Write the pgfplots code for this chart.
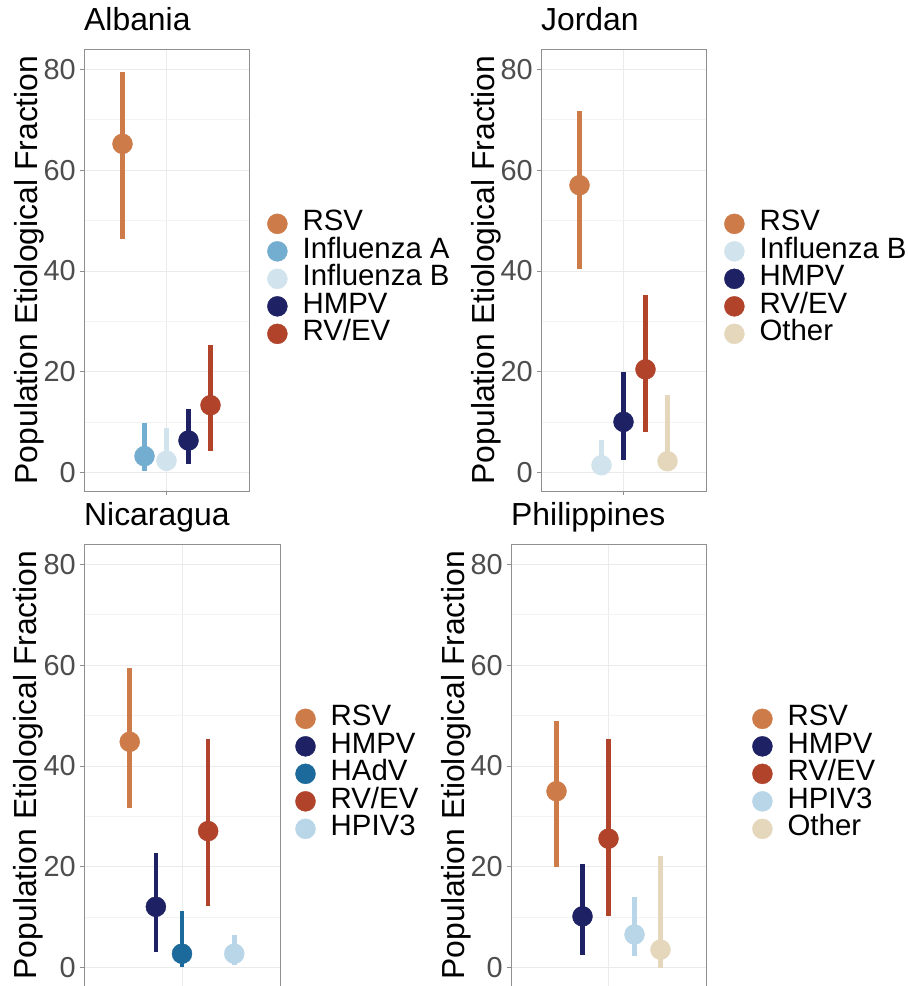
\documentclass[border=0pt]{standalone}
\usepackage{pgfplots}
\pgfplotsset{compat=1.18}
\usepackage{fontspec}
\setmainfont{Liberation Sans}
\definecolor{cRSV}{HTML}{CD7B48}
\definecolor{cFluA}{HTML}{73ADCF}
\definecolor{cFluB}{HTML}{D1E3EC}
\definecolor{cHMPV}{HTML}{1E2163}
\definecolor{cRV}{HTML}{B0432A}
\definecolor{cHAdV}{HTML}{1B6A9B}
\definecolor{cHPIV}{HTML}{B8D6E7}
\definecolor{cOther}{HTML}{E5D7BC}
\definecolor{gridc}{HTML}{EBEBEB}
\definecolor{framec}{HTML}{8F8F8F}
\definecolor{tickc}{HTML}{4D4D4D}
\pgfplotsset{
  panel/.style={
    scale only axis,
    height=442bp,
    xmin=0.4, xmax=1.6,
    ymin=-3.6, ymax=84,
    xtick={1}, xticklabels={},
    ytick={0,20,40,60,80},
    minor ytick={10,30,50,70},
    xtick pos=bottom, ytick pos=left,
    xmajorgrids, ymajorgrids, yminorgrids,
    major grid style={gridc, line width=0.9bp},
    minor grid style={gridc!60, line width=0.6bp},
    axis line style={framec, line width=0.9bp},
    tick align=outside,
    major tick length=4bp,
    minor tick length=0bp,
    tick style={framec, line width=0.9bp},
    /pgf/number format/assume math mode=true,
    yticklabel style={font=\fontsize{29}{29}\selectfont, text=tickc, inner sep=0pt, xshift=-4bp},
    title style={at={(0,1)}, anchor=base west, inner sep=0pt, yshift=13bp, font=\fontsize{32}{32}\selectfont},
    ylabel={Population Etiological Fraction},
    ylabel style={font=\fontsize{32}{32}\selectfont, anchor=base, rotate=0},
    legend cell align=left,
    legend style={draw=none, fill=none, anchor=west, inner sep=0pt, row sep=0pt,
      nodes={inner sep=0pt, text height=20.5bp, text depth=7bp, font=\fontsize{29.5}{29.5}\selectfont},
      column sep=0pt},
    legend image code/.code={\fill[#1] (10bp,0bp) circle (10bp); \path (35bp,0bp);},
  },
  ci/.style={only marks, mark=*, mark size=10bp, color=#1, fill=#1,
    mark options={draw=#1, fill=#1},
    error bars/.cd, y dir=both, y explicit, error mark=none,
    error bar style={line width=4.5bp, color=#1}},
}
\begin{document}
\begin{tikzpicture}
\path[use as bounding box] (0,0) rectangle (908bp,986bp);
% Albania
\begin{axis}[panel, at={(84bp,495bp)}, anchor=south west, width=165bp,
  title={Albania},
  ylabel style={at={(axis description cs:-0.2848,0.5)}},
  legend style={at={(axis description cs:1.109,0.48)}}]
\addplot+[ci=cRSV] coordinates {(0.68,65.2) += (0,14.3) -= (0,18.9)};
\addlegendentry{RSV}
\addplot+[ci=cFluA] coordinates {(0.84,3.3) += (0,6.6) -= (0,3.0)};
\addlegendentry{Influenza A}
\addplot+[ci=cFluB] coordinates {(1.00,2.4) += (0,6.5) -= (0,2.1)};
\addlegendentry{Influenza B}
\addplot+[ci=cHMPV] coordinates {(1.16,6.4) += (0,6.3) -= (0,4.6)};
\addlegendentry{HMPV}
\addplot+[ci=cRV] coordinates {(1.32,13.4) += (0,11.9) -= (0,9.1)};
\addlegendentry{RV/EV}
\end{axis}
% Jordan
\begin{axis}[panel, at={(541bp,495bp)}, anchor=south west, width=165bp,
  title={Jordan},
  ylabel style={at={(axis description cs:-0.2848,0.5)}},
  legend style={at={(axis description cs:1.109,0.48)}}]
\addplot+[ci=cRSV] coordinates {(0.68,57.0) += (0,14.7) -= (0,16.6)};
\addlegendentry{RSV}
\addplot+[ci=cFluB] coordinates {(0.84,1.5) += (0,5.0) -= (0,1.2)};
\addlegendentry{Influenza B}
\addplot+[ci=cHMPV] coordinates {(1.00,10.1) += (0,9.9) -= (0,7.5)};
\addlegendentry{HMPV}
\addplot+[ci=cRV] coordinates {(1.16,20.5) += (0,14.8) -= (0,12.4)};
\addlegendentry{RV/EV}
\addplot+[ci=cOther] coordinates {(1.32,2.3) += (0,13.2) -= (0,2.0)};
\addlegendentry{Other}
\end{axis}
% Nicaragua
\begin{axis}[panel, at={(84bp,0bp)}, anchor=south west, width=196bp,
  title={Nicaragua},
  ylabel style={at={(axis description cs:-0.2398,0.5)}},
  legend style={at={(axis description cs:1.077,0.48)}}]
\addplot+[ci=cRSV] coordinates {(0.68,44.8) += (0,14.6) -= (0,13.2)};
\addlegendentry{RSV}
\addplot+[ci=cHMPV] coordinates {(0.84,12.1) += (0,10.7) -= (0,8.9)};
\addlegendentry{HMPV}
\addplot+[ci=cHAdV] coordinates {(1.00,2.8) += (0,8.4) -= (0,2.7)};
\addlegendentry{HAdV}
\addplot+[ci=cRV] coordinates {(1.16,27.1) += (0,18.2) -= (0,14.9)};
\addlegendentry{RV/EV}
\addplot+[ci=cHPIV] coordinates {(1.32,2.8) += (0,3.8) -= (0,2.3)};
\addlegendentry{HPIV3}
\end{axis}
% Philippines
\begin{axis}[panel, at={(511bp,0bp)}, anchor=south west, width=195bp,
  title={Philippines},
  ylabel style={at={(axis description cs:-0.241,0.5)}},
  legend style={at={(axis description cs:1.236,0.48)}}]
\addplot+[ci=cRSV] coordinates {(0.68,35.0) += (0,14.0) -= (0,15.0)};
\addlegendentry{RSV}
\addplot+[ci=cHMPV] coordinates {(0.84,10.2) += (0,10.3) -= (0,7.6)};
\addlegendentry{HMPV}
\addplot+[ci=cRV] coordinates {(1.00,25.6) += (0,19.8) -= (0,15.4)};
\addlegendentry{RV/EV}
\addplot+[ci=cHPIV] coordinates {(1.16,6.6) += (0,7.4) -= (0,4.2)};
\addlegendentry{HPIV3}
\addplot+[ci=cOther] coordinates {(1.32,3.6) += (0,18.5) -= (0,3.6)};
\addlegendentry{Other}
\end{axis}
\end{tikzpicture}
\end{document}
